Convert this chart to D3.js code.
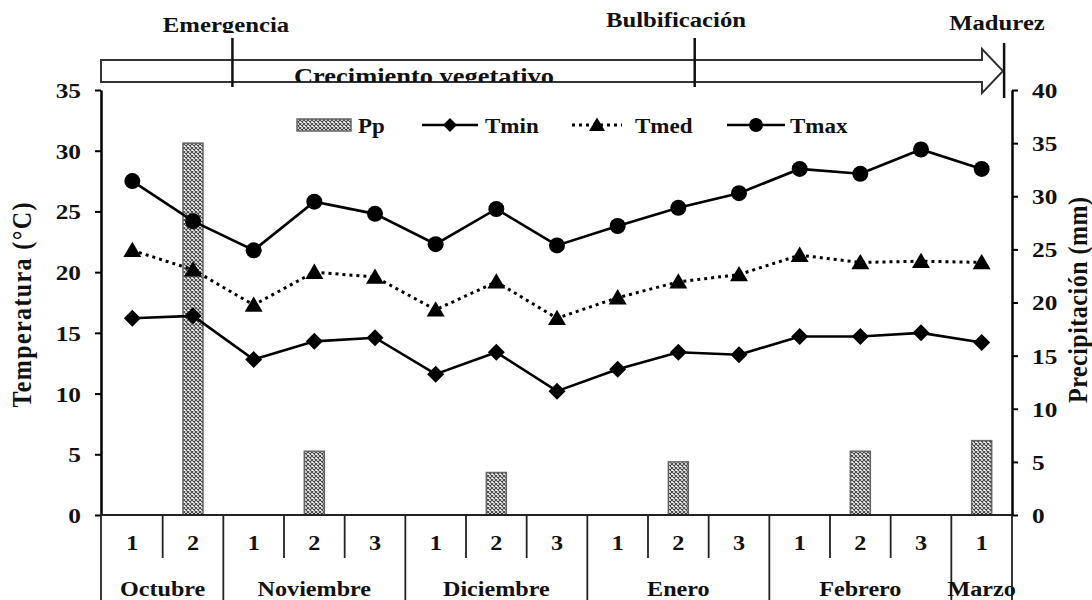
<!DOCTYPE html>
<html><head><meta charset="utf-8">
<script src="https://cdn.jsdelivr.net/npm/d3@7"></script>
<style>
html,body{margin:0;padding:0;background:#fff;}
text{font-family:"Liberation Serif","Times New Roman",serif;font-weight:bold;fill:#111;}
</style></head>
<body>
<svg id="chart" width="1092" height="600"></svg>
<script>
// ---- data ----
const categories = ["1","2","1","2","3","1","2","3","1","2","3","1","2","3","1"];
const monthNames = ["Octubre","Noviembre","Diciembre","Enero","Febrero","Marzo"];
const monthSpans = [2,3,3,3,3,1];
const tmin = [16.2,16.4,12.8,14.3,14.6,11.6,13.4,10.2,12.0,13.4,13.2,14.7,14.7,15.0,14.2];
const tmed = [21.8,20.2,17.3,20.0,19.6,16.9,19.2,16.2,17.9,19.2,19.8,21.4,20.8,20.9,20.8];
const tmax = [27.5,24.2,21.8,25.8,24.8,22.3,25.2,22.2,23.8,25.3,26.5,28.5,28.1,30.1,28.5];
const pp   = [0,35,0,6,0,0,4,0,0,5,0,0,6,0,7];
const tempTicks = [0,5,10,15,20,25,30,35];
const ppTicks = [0,5,10,15,20,25,30,35,40];
const phaseNames = ["Emergencia","Bulbificación","Madurez"];
const phasePos = [2.15,9.77,14.87];   // in category units
const stageName = "Crecimiento vegetativo";
const seriesNames = ["Pp","Tmin","Tmed","Tmax"];

// ---- layout ----
const SX = 1.15, FS = 22;
const L = 102, R = 1012, T = 90, B = 515;
const svg = d3.select("#chart");
const x = d3.scaleBand().domain(d3.range(categories.length)).range([L, R]).padding(0);
const xu = d3.scaleLinear().domain([0, categories.length]).range([L, R]);
const yT = d3.scaleLinear().domain([0,35]).range([B, T]);
const yP = d3.scaleLinear().domain([0,40]).range([B, T]);
const cx = i => x(i) + x.bandwidth()/2;

function txt(g, px, py, s, anchor, size){
  return g.append("text")
    .attr("transform", `translate(${px},${py}) scale(${SX},1)`)
    .attr("text-anchor", anchor || "middle")
    .style("font-size", (size||FS)+"px")
    .text(s);
}

// pattern
const defs = svg.append("defs");
const pat = defs.append("pattern").attr("id","hatch").attr("patternUnits","userSpaceOnUse")
  .attr("width",4).attr("height",4);
pat.append("rect").attr("width",4).attr("height",4).attr("fill","#fff");
pat.append("path").attr("d","M0,0L4,4M4,0L0,4").attr("stroke","#444").attr("stroke-width",1.1);
defs.append("clipPath").attr("id","clipStage").append("rect").attr("x",0).attr("y",0).attr("width",1092).attr("height",82);
defs.append("clipPath").attr("id","clipEm").append("rect").attr("x",0).attr("y",0).attr("width",1092).attr("height",33);

// ---- bars ----
const bw = x.bandwidth()*0.33;
const barG = svg.append("g");
pp.forEach((d,i)=>{
  if(d<=0) return;
  barG.append("rect").attr("x", cx(i)-bw/2).attr("y", yP(d)).attr("width", bw).attr("height", yP(0)-yP(d))
    .attr("fill","url(#hatch)").attr("stroke","#666").attr("stroke-width",1.5);
});

// ---- lines ----
const line = d3.line().x((d,i)=>cx(i)).y(d=>yT(d));
svg.append("path").datum(tmax).attr("d",line).attr("fill","none").attr("stroke","#000").attr("stroke-width",2.6);
svg.append("path").datum(tmin).attr("d",line).attr("fill","none").attr("stroke","#000").attr("stroke-width",2.6);
svg.append("path").datum(tmed).attr("d",line).attr("fill","none").attr("stroke","#000").attr("stroke-width",3).attr("stroke-dasharray","3,4");

const diamond = (px,py,s)=>`M${px},${py-s}L${px+s},${py}L${px},${py+s}L${px-s},${py}Z`;
const tri = (px,py,s)=>`M${px},${py-s*0.95}L${px+s},${py+s*0.75}L${px-s},${py+s*0.75}Z`;
const mk = svg.append("g");
tmax.forEach((d,i)=>mk.append("circle").attr("cx",cx(i)).attr("cy",yT(d)).attr("r",8).attr("fill","#000"));
tmin.forEach((d,i)=>mk.append("path").attr("d",diamond(cx(i),yT(d),8.5)).attr("fill","#000"));
tmed.forEach((d,i)=>mk.append("path").attr("d",tri(cx(i),yT(d),9)).attr("fill","#000"));

// ---- axes ----
const axL = svg.append("g").attr("transform",`translate(${L-1},0)`)
  .call(d3.axisLeft(yT).tickValues(tempTicks).tickSize(6).tickSizeOuter(0).tickFormat(d3.format("d")));
const axR = svg.append("g").attr("transform",`translate(${R},0)`)
  .call(d3.axisRight(yP).tickValues(ppTicks).tickSize(6).tickSizeOuter(0).tickFormat(d3.format("d")));
[axL, axR].forEach(a=>{
  a.select(".domain").attr("stroke","#000").attr("stroke-width",2.5);
  a.selectAll(".tick line").attr("stroke","#000").attr("stroke-width",2);
  a.selectAll(".tick text").attr("fill","#111").style("font-size",FS+"px")
    .style("font-family",'"Liberation Serif",serif').style("font-weight","bold");
});
axL.selectAll(".tick text").attr("x",0).attr("dy","0.34em").attr("transform",`translate(-20,0) scale(${SX},1)`);
axR.selectAll(".tick text").attr("x",0).attr("dy","0.34em").attr("transform",`translate(20,0) scale(${SX},1)`);

// axis titles
svg.append("text").attr("transform",`translate(31,305) rotate(-90) scale(1,${SX})`)
  .attr("text-anchor","middle").style("font-size","24px").attr("textLength",205).attr("lengthAdjust","spacing")
  .text("Temperatura (°C)");
svg.append("text").attr("transform",`translate(1087,300) rotate(-90) scale(1,${SX})`)
  .attr("text-anchor","middle").style("font-size","24px").attr("textLength",206).attr("lengthAdjust","spacing")
  .text("Precipitación (mm)");

// ---- bottom table ----
const tb = svg.append("g").attr("stroke","#222");
tb.append("line").attr("x1",L-1).attr("x2",R).attr("y1",B).attr("y2",B).attr("stroke-width",2);
tb.append("line").attr("x1",L-1).attr("x2",L-1).attr("y1",B).attr("y2",600).attr("stroke-width",1.8);
tb.append("line").attr("x1",R).attr("x2",R).attr("y1",B).attr("y2",600).attr("stroke-width",1.8);
let acc = 0;
const bounds = new Set();
monthSpans.forEach(s=>{ acc += s; bounds.add(acc); });
for(let k=1;k<categories.length;k++){
  const xx = xu(k);
  tb.append("line").attr("x1",xx).attr("x2",xx).attr("y1",B).attr("y2", bounds.has(k)?600:558).attr("stroke-width",1.8);
}
categories.forEach((c,i)=>txt(svg, cx(i), 550, c, "middle", 21));
acc = 0;
monthNames.forEach((m,j)=>{
  const mid = xu(acc + monthSpans[j]/2);
  acc += monthSpans[j];
  txt(svg, mid, 596, m, "middle", 21);
});

// ---- legend ----
const lg = svg.append("g");
lg.append("rect").attr("x",297).attr("y",119).attr("width",54).attr("height",12)
  .attr("fill","url(#hatch)").attr("stroke","#666").attr("stroke-width",1.5);
txt(lg, 358, 133, seriesNames[0], "start", 20);
lg.append("line").attr("x1",422).attr("x2",478).attr("y1",125).attr("y2",125).attr("stroke","#000").attr("stroke-width",2.6);
lg.append("path").attr("d",diamond(450,125,7)).attr("fill","#000");
txt(lg, 485, 133, seriesNames[1], "start", 20);
lg.append("line").attr("x1",572).attr("x2",622).attr("y1",125).attr("y2",125).attr("stroke","#000").attr("stroke-width",3).attr("stroke-dasharray","3,4");
lg.append("path").attr("d",tri(597,125,8)).attr("fill","#000");
txt(lg, 635, 133, seriesNames[2], "start", 20);
lg.append("line").attr("x1",727).attr("x2",785).attr("y1",125).attr("y2",125).attr("stroke","#000").attr("stroke-width",2.6);
lg.append("circle").attr("cx",756).attr("cy",125).attr("r",7).attr("fill","#000");
txt(lg, 790, 133, seriesNames[3], "start", 20);

// ---- phase arrow ----
const ag = svg.append("g");
const shaftEnd = 982, tip = 1003;
ag.append("path")
  .attr("d",`M${L-1},60L${shaftEnd},60L${shaftEnd},49L${tip},71L${shaftEnd},93L${shaftEnd},82L${L-1},82Z`)
  .attr("fill","none").attr("stroke","#333").attr("stroke-width",2);
const sg = ag.append("g").attr("clip-path","url(#clipStage)");
txt(sg, 424, 84, stageName, "middle", 23);

const phaseLine = [[38,87],[38,87],[43,98]];
const phaseLabel = [[226,32],[676,27],[997,30]];
phaseNames.forEach((p,k)=>{
  const xx = xu(phasePos[k]);
  ag.append("line").attr("x1",xx).attr("x2",xx).attr("y1",phaseLine[k][0]).attr("y2",phaseLine[k][1])
    .attr("stroke","#111").attr("stroke-width",2.5);
  const holder = k===0 ? ag.append("g").attr("clip-path","url(#clipEm)") : ag;
  txt(holder, phaseLabel[k][0], phaseLabel[k][1], p, "middle", 21.5);
});
</script>
</body></html>
